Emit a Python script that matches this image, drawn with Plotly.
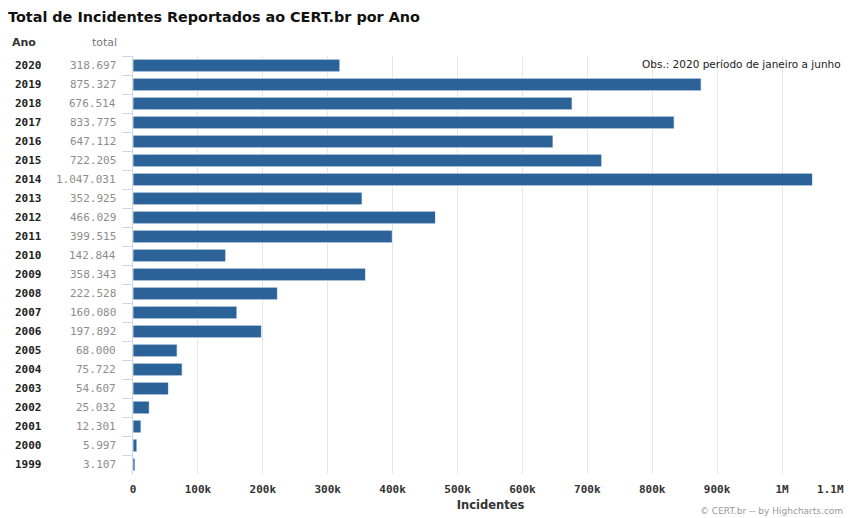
import plotly.graph_objects as go

years = ["2020", "2019", "2018", "2017", "2016", "2015", "2014", "2013", "2012", "2011",
         "2010", "2009", "2008", "2007", "2006", "2005", "2004", "2003", "2002", "2001",
         "2000", "1999"]
totals = [318697, 875327, 676514, 833775, 647112, 722205, 1047031, 352925, 466029, 399515,
          142844, 358343, 222528, 160080, 197892, 68000, 75722, 54607, 25032, 12301,
          5997, 3107]
x_tickvals = [0, 100000, 200000, 300000, 400000, 500000, 600000, 700000, 800000, 900000,
              1000000, 1100000]
x_ticktext = ["0", "100k", "200k", "300k", "400k", "500k", "600k", "700k", "800k", "900k",
              "1M", "1.1M"]

# page body has an 8px margin, so the figure is drawn 8px in from the window corner
OFF = 8
W, H = 854 - OFF, 518 - OFF
L, T = 133 - OFF, 55.5 - OFF
R = W - (848 - OFF)
B = H - (474.5 - OFF)
pw, ph = W - L - R, H - T - B


def px_x(p):
    return (p - OFF - L) / pw


def px_y(p):
    return 1 - (p - OFF - T) / ph


def fmt(v):
    return f"{v:,}".replace(",", ".")


# last tick label is pulled inward (as Highcharts does) by padding it on the right
tick_labels = [f"<b>{t}</b>" for t in x_ticktext]
tick_labels[-1] = tick_labels[-1] + "\u00a0" * 5

fig = go.Figure()
fig.add_trace(go.Bar(
    y=years, x=totals, orientation="h",
    marker=dict(color="#2b6298", line=dict(color="rgba(255,255,255,0.7)", width=1)),
    hoverinfo="x+y",
))

annotations = []
for i, (yr, v) in enumerate(zip(years, totals)):
    annotations.append(dict(
        xref="paper", yref="y", x=px_x(13), y=i, xanchor="left", yanchor="middle",
        text=f"<b>{yr}</b>", showarrow=False,
        font=dict(family="DejaVu Sans Mono", size=11, color="#222222"),
    ))
    annotations.append(dict(
        xref="paper", yref="y", x=px_x(118), y=i, xanchor="right", yanchor="middle",
        text=fmt(v), showarrow=False,
        font=dict(family="DejaVu Sans Mono", size=11, color="#8c8c8c"),
    ))

annotations += [
    dict(xref="paper", yref="paper", x=px_x(10), y=px_y(42), xanchor="left", yanchor="middle",
         text="<b>Ano</b>", showarrow=False,
         font=dict(family="DejaVu Sans", size=11, color="#333333")),
    dict(xref="paper", yref="paper", x=px_x(119), y=px_y(42), xanchor="right", yanchor="middle",
         text="total", showarrow=False,
         font=dict(family="DejaVu Sans", size=11, color="#777777")),
    dict(xref="paper", yref="paper", x=px_x(843), y=px_y(64), xanchor="right", yanchor="middle",
         text="Obs.: 2020 período de janeiro a junho", showarrow=False,
         font=dict(family="DejaVu Sans", size=10.5, color="#222222")),
    dict(xref="paper", yref="paper", x=px_x(845), y=px_y(512), xanchor="right", yanchor="middle",
         text="© CERT.br -- by Highcharts.com", showarrow=False,
         font=dict(family="DejaVu Sans", size=9, color="#999999")),
]

fig.update_layout(
    width=W, height=H,
    margin=dict(l=L, r=R, t=T, b=B, pad=0, autoexpand=False),
    paper_bgcolor="#ffffff", plot_bgcolor="#ffffff",
    showlegend=False,
    bargap=0.33,
    title=dict(text="<b>Total de Incidentes Reportados ao CERT.br por Ano</b>",
               x=0, xref="container", xanchor="left",
               y=1 - (17 - OFF) / H, yref="container", yanchor="middle",
               pad=dict(l=0, r=0, t=0, b=0),
               font=dict(family="DejaVu Sans", size=14.4, color="#111111")),
    xaxis=dict(range=[0, x_tickvals[-1] * 1.0015], tickvals=x_tickvals,
               ticktext=tick_labels,
               showgrid=True, gridcolor="#e6e6e6", gridwidth=1, zeroline=False,
               showline=False, ticks="", automargin=False, ticklabelstandoff=7,
               ticklabeloverflow="allow",
               tickfont=dict(family="DejaVu Sans Mono", size=11, color="#333333"),
               title=dict(text="<b>Incidentes</b>", standoff=5,
                          font=dict(family="DejaVu Sans", size=11.5, color="#333333"))),
    yaxis=dict(type="category", range=[len(years) - 0.5, -0.5], showticklabels=False,
               ticks="outside", tickson="boundaries", ticklen=10, tickcolor="#ccd6eb",
               showline=True, linecolor="#ccd6eb", linewidth=1, showgrid=False,
               zeroline=False, automargin=False),
    annotations=annotations,
)

fig.write_html("out.html")
